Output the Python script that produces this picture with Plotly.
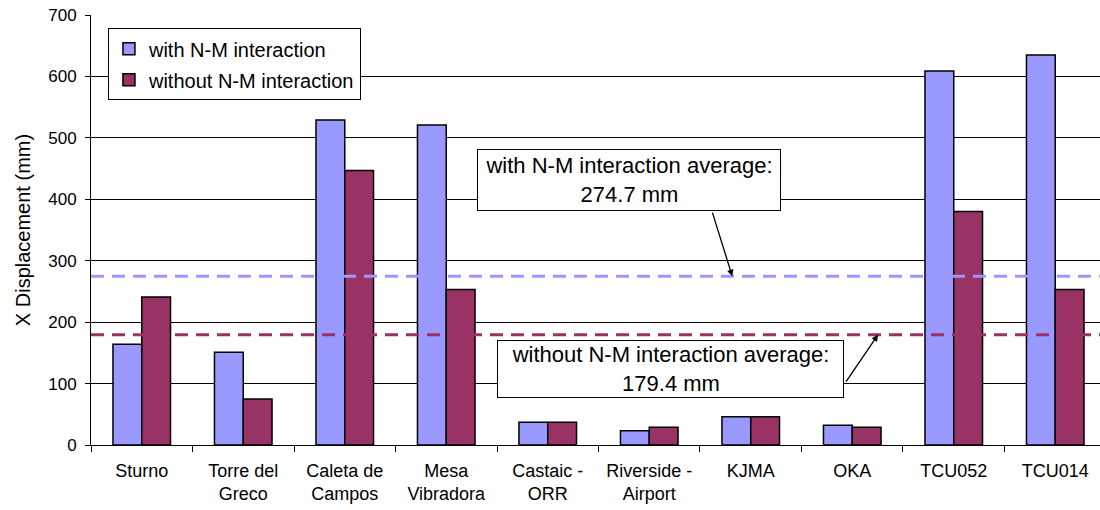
import plotly.graph_objects as go

# Peak X displacement per ground motion record
categories = ["Sturno", "Torre del Greco", "Caleta de Campos", "Mesa Vibradora",
              "Castaic - ORR", "Riverside - Airport", "KJMA", "OKA", "TCU052", "TCU014"]
tick_labels = ["Sturno", "Torre del<br>Greco", "Caleta de<br>Campos", "Mesa<br>Vibradora",
               "Castaic -<br>ORR", "Riverside -<br>Airport", "KJMA", "OKA", "TCU052", "TCU014"]
with_nm = [164, 151, 529, 521, 37, 23, 46, 32, 609, 635]
without_nm = [241, 75, 447, 253, 37, 29, 46, 29, 380, 253]
avg_with = 274.7
avg_without = 179.4

COL_WITH = "#9999FF"
COL_WITHOUT = "#993366"
FONT = "Liberation Sans, Arial, sans-serif"

fig = go.Figure()
fig.add_trace(go.Bar(
    x=categories, y=with_nm, name="with N-M interaction",
    marker=dict(color=COL_WITH, line=dict(color="black", width=1.5)),
    legendgroup="a",
))
fig.add_trace(go.Bar(
    x=categories, y=without_nm, name="without N-M interaction",
    marker=dict(color=COL_WITHOUT, line=dict(color="black", width=1.5)),
    legendgroup="b",
))

# Average lines
for val, col in [(avg_with, COL_WITH), (avg_without, COL_WITHOUT)]:
    fig.add_shape(type="line", xref="paper", x0=0, x1=1, yref="y", y0=val, y1=val,
                  line=dict(color=col, width=3, dash="13px,8px"), layer="above")

# Callout boxes
fig.add_annotation(x=4.80, y=431, xref="x", yref="y", showarrow=False,
                   text=f"with N-M interaction average:<br>{avg_with} mm",
                   font=dict(family=FONT, size=22, color="black"),
                   bgcolor="white", bordercolor="black", borderwidth=1, borderpad=1,
                   width=300, height=58)
fig.add_annotation(x=5.818, y=avg_with, xref="x", yref="y", ax=5.618, ay=380.7,
                   axref="x", ayref="y", text="", showarrow=True,
                   arrowhead=2, arrowsize=1, arrowwidth=1.3, arrowcolor="black")

fig.add_annotation(x=5.208, y=123.6, xref="x", yref="y", showarrow=False,
                   text=f"without N-M interaction average:<br>{avg_without} mm",
                   font=dict(family=FONT, size=22, color="black"),
                   bgcolor="white", bordercolor="black", borderwidth=1, borderpad=1,
                   width=343, height=54)
fig.add_annotation(x=7.254, y=avg_without, xref="x", yref="y", ax=6.929, ay=100.9,
                   axref="x", ayref="y", text="", showarrow=True,
                   arrowhead=2, arrowsize=1, arrowwidth=1.3, arrowcolor="black")

fig.update_layout(
    width=1100, height=510,
    margin=dict(l=91, r=0, t=15, b=65),
    paper_bgcolor="white", plot_bgcolor="white",
    barmode="group", bargap=0.433, bargroupgap=0,
    font=dict(family=FONT, color="black"),
    showlegend=True,
    legend=dict(x=0.0168, y=0.969, xanchor="left", yanchor="top",
                bgcolor="white", bordercolor="black", borderwidth=1,
                font=dict(family=FONT, size=20, color="black"),
                itemwidth=30,
                traceorder="grouped", tracegroupgap=2),
    xaxis=dict(
        type="category", range=[-0.5, 9.441],
        tickmode="array", tickvals=categories, ticktext=tick_labels,
        tickson="boundaries", ticks="outside", ticklen=6, tickcolor="black",
        ticklabelstandoff=9,
        showline=True, linecolor="black", linewidth=1,
        showgrid=False, tickfont=dict(family=FONT, size=18, color="black"),
    ),
    yaxis=dict(
        range=[0, 700], dtick=100, tick0=0,
        ticks="outside", ticklen=5, tickcolor="black",
        ticklabelstandoff=5,
        showline=True, linecolor="black", linewidth=1,
        showgrid=True, gridcolor="black", gridwidth=1, zeroline=False,
        tickfont=dict(family=FONT, size=17, color="black"),
        title=dict(text="X Displacement (mm)", standoff=12,
                   font=dict(family=FONT, size=20, color="black")),
    ),
)

fig.write_html("out.html")
